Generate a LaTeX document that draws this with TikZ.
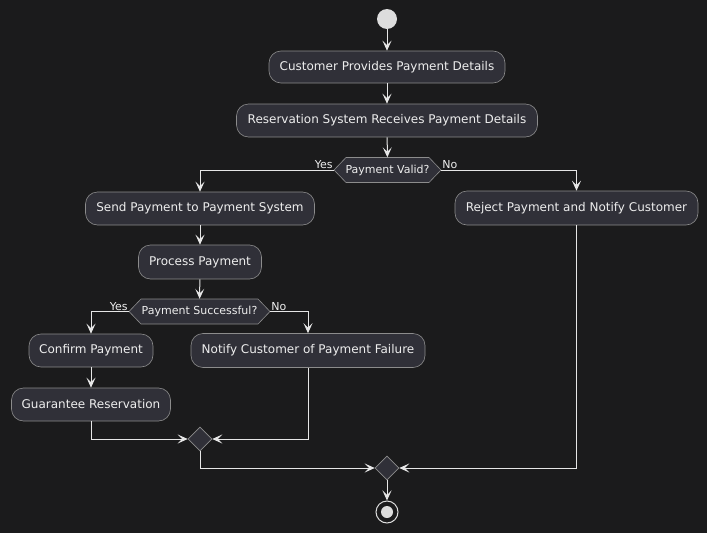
\documentclass[tikz,border=0pt]{standalone}
\usepackage{fontspec}
\setmainfont{DejaVu Sans}
\usetikzlibrary{arrows.meta,shapes.geometric}
\definecolor{bgc}{HTML}{1B1B1C}
\definecolor{boxfill}{HTML}{303038}
\definecolor{boxline}{HTML}{8C8C8C}
\definecolor{txt}{HTML}{EEEEEE}
\definecolor{wire}{HTML}{E6E6E6}
\definecolor{dot}{HTML}{DDDDDD}
\tikzset{
  act/.style={draw=boxline, fill=boxfill, rounded corners=12pt, text=txt,
    font=\fontsize{12}{14}\selectfont, inner sep=0pt, line width=0.6pt},
  hexlbl/.style={text=txt, font=\fontsize{11}{13}\selectfont, inner sep=0pt},
  hexshape/.style={draw=boxline, fill=boxfill, line width=0.6pt},
  merge/.style={diamond, draw=boxline, fill=boxfill, minimum width=24pt, minimum height=24pt, inner sep=0pt, line width=0.6pt},
  flow/.style={draw=wire, line width=1pt, -{Stealth[length=10pt, width=9pt, inset=4.5pt]}},
  edge/.style={draw=wire, line width=1pt},
  br/.style={text=txt, font=\fontsize{11}{13}\selectfont, inner sep=1pt},
}
\begin{document}
\begin{tikzpicture}[x=1pt,y=-1pt]
\fill[bgc] (0,0) rectangle (707,533);
\useasboundingbox (0,0) rectangle (707,533);
% start
\node (start) [circle, fill=dot, minimum size=20pt, inner sep=0pt] at (387,19) {};
\node (b1) [act, minimum width=236pt, minimum height=32pt] at (387,67) {Customer Provides Payment Details};
\node (b2) [act, minimum width=301pt, minimum height=33pt] at (387,120.5) {Reservation System Receives Payment Details};
% decision 1
\fill[boxfill] (334,170) -- (346,157.5) -- (429,157.5) -- (441,170) -- (429,182.5) -- (346,182.5) -- cycle;
\draw[hexshape] (334,170) -- (346,157.5) -- (429,157.5) -- (441,170) -- (429,182.5) -- (346,182.5) -- cycle;
\node (d1) [hexlbl, minimum width=107pt, minimum height=25pt] at (387.5,170) {Payment Valid?};
\node (b3) [act, minimum width=229pt, minimum height=33pt] at (200,208.5) {Send Payment to Payment System};
\node (rej) [act, minimum width=243pt, minimum height=34pt] at (576.5,208) {Reject Payment and Notify Customer};
\node (b4) [act, minimum width=123pt, minimum height=34pt] at (200,262) {Process Payment};
% decision 2
\draw[hexshape] (129,311.5) -- (141,299) -- (258,299) -- (270,311.5) -- (258,324) -- (141,324) -- cycle;
\node (d2) [hexlbl, minimum width=141pt, minimum height=25pt] at (199.5,311.5) {Payment Successful?};
\node (b5) [act, minimum width=124pt, minimum height=33pt] at (91,350.5) {Confirm Payment};
\node (b6) [act, minimum width=234pt, minimum height=34pt] at (308,350.5) {Notify Customer of Payment Failure};
\node (b7) [act, minimum width=159pt, minimum height=33pt] at (91,404.5) {Guarantee Reservation};
\node (m1) [merge] at (200,439) {};
\node (m2) [merge] at (387,468) {};
\node (stop) [circle, draw=dot, line width=1pt, minimum size=22pt, inner sep=0pt] at (387,512) {};
\node (stopin) [circle, fill=dot, minimum size=12pt, inner sep=0pt] at (stop.center) {};
% connectors
\draw[flow] (start) -- (b1);
\draw[flow] (b1) -- (b2);
\draw[flow] (b2) -- (d1);
\draw[flow] (d1.west) -| (b3.north);
\draw[flow] (d1.east) -| (rej.north);
\node[br, anchor=south east] at (d1.west) {Yes};
\node[br, anchor=south west] at (d1.east) {No};
\draw[flow] (b3) -- (b4);
\draw[flow] (b4) -- (d2);
\draw[flow] (d2.west) -| (b5.north);
\draw[flow] (d2.east) -| (b6.north);
\node[br, anchor=south east] at (d2.west) {Yes};
\node[br, anchor=south west] at (d2.east) {No};
\draw[flow] (b5) -- (b7);
\draw[flow] (b7.south) |- (m1.west);
\draw[flow] (b6.south) |- (m1.east);
\draw[flow] (m1.south) |- (m2.west);
\draw[flow] (rej.south) |- (m2.east);
\draw[flow] (m2.south) -- (stop.north);
\end{tikzpicture}
\end{document}
